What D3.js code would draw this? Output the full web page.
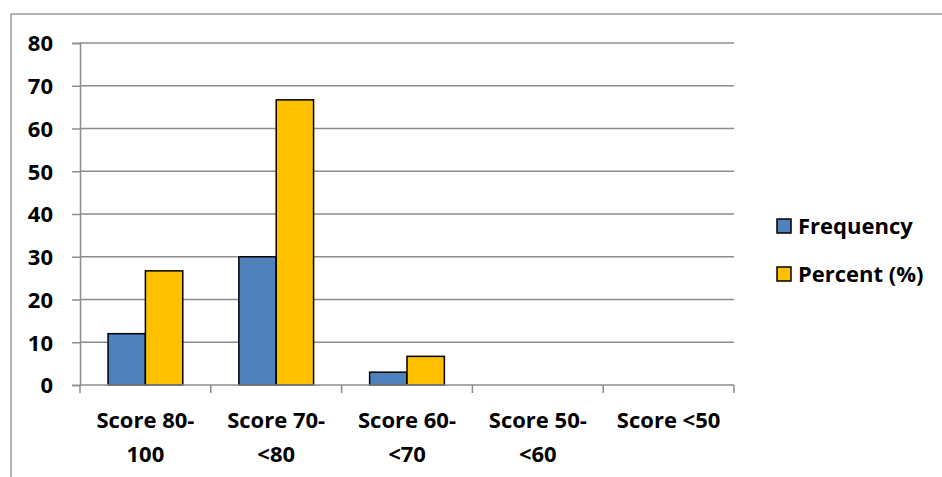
<!DOCTYPE html>
<html>
<head>
<meta charset="utf-8">
<script src="https://cdn.jsdelivr.net/npm/d3@7"></script>
<style>
  html, body { margin: 0; padding: 0; background: #fff; }
  svg { display: block; font-family: "Open Sans", "Liberation Sans", Arial, sans-serif; font-weight: bold; }
</style>
</head>
<body>
<svg id="chart" width="942" height="477"></svg>
<script>
// Score bands and the two series plotted for each band
const categories = [["Score 80-", "100"], ["Score 70-", "<80"], ["Score 60-", "<70"], ["Score 50-", "<60"], ["Score <50"]];
const categoryKeys = ["Score 80-100", "Score 70-<80", "Score 60-<70", "Score 50-<60", "Score <50"];
const frequency = [12, 30, 3, 0, 0];
const percent = [26.7, 66.7, 6.7, 0, 0];
const seriesNames = ["Frequency", "Percent (%)"];
const seriesColors = ["#4F81BD", "#FFC000"];
const yTicks = [0, 10, 20, 30, 40, 50, 60, 70, 80];

const FONT = "'Open Sans', 'Liberation Sans', Arial, sans-serif";
const FONT_SIZE = "22px";

const svg = d3.select("#chart");
const plot = { left: 80, right: 734, top: 43, bottom: 385 };

// outer chart frame
svg.append("path")
  .attr("d", "M11,477 V14 H942")
  .attr("fill", "none")
  .attr("stroke", "#9a9a9a")
  .attr("stroke-width", 1.5);

const x = d3.scaleBand().domain(categoryKeys).range([plot.left, plot.right]).paddingInner(0).paddingOuter(0);
const y = d3.scaleLinear().domain([0, 80]).range([plot.bottom, plot.top]);
const inner = d3.scaleBand().domain(seriesNames).range([0, x.bandwidth()]).paddingInner(0).paddingOuter(0.75);

// horizontal gridlines with the y axis
const yAxis = d3.axisLeft(y).tickValues(yTicks).tickSize(8).tickPadding(19).tickFormat(d3.format("d"));
const gy = svg.append("g").attr("transform", `translate(${plot.left},0)`).call(yAxis);
gy.select(".domain").attr("stroke", "#8c8c8c").attr("stroke-width", 1.5);
gy.selectAll(".tick line").attr("stroke", "#8c8c8c").attr("stroke-width", 1.5);
gy.selectAll(".tick text").attr("fill", "#000").attr("dy", "0.36em")
  .style("font-size", FONT_SIZE).style("font-weight", "bold").style("font-family", FONT);

svg.append("g").selectAll("line").data(yTicks.filter(d => d > 0)).join("line")
  .attr("x1", plot.left).attr("x2", plot.right)
  .attr("y1", d => y(d)).attr("y2", d => y(d))
  .attr("stroke", "#8c8c8c").attr("stroke-width", 1.5);

// bars
const rows = categoryKeys.map((k, i) => ({ key: k, values: [frequency[i], percent[i]] }));
const groups = svg.append("g").selectAll("g").data(rows).join("g")
  .attr("transform", d => `translate(${x(d.key)},0)`);
groups.selectAll("rect").data(d => d.values.map((v, j) => ({ v, s: seriesNames[j], c: seriesColors[j] })))
  .join("rect")
  .filter(d => d.v > 0)
  .attr("x", d => inner(d.s))
  .attr("width", inner.bandwidth())
  .attr("y", d => y(d.v))
  .attr("height", d => y(0) - y(d.v))
  .attr("fill", d => d.c)
  .attr("stroke", "#000")
  .attr("stroke-width", 1.5);

// x axis with category boundary ticks
svg.append("line").attr("x1", plot.left).attr("x2", plot.right)
  .attr("y1", plot.bottom).attr("y2", plot.bottom)
  .attr("stroke", "#8c8c8c").attr("stroke-width", 1.5);
const bounds = categoryKeys.map(k => x(k)).concat([plot.right]);
svg.append("g").selectAll("line").data(bounds).join("line")
  .attr("x1", d => d).attr("x2", d => d)
  .attr("y1", plot.bottom).attr("y2", plot.bottom + 8)
  .attr("stroke", "#8c8c8c").attr("stroke-width", 1.5);

const labels = svg.append("g").selectAll("text").data(categoryKeys).join("text")
  .attr("x", d => x(d) + x.bandwidth() / 2)
  .attr("y", 428)
  .attr("text-anchor", "middle")
  .style("font-size", FONT_SIZE);
labels.each(function(d, i) {
  const t = d3.select(this);
  categories[i].forEach((line, j) => {
    t.append("tspan").attr("x", x(d) + x.bandwidth() / 2).attr("dy", j === 0 ? 0 : 34).text(line);
  });
});

// legend
const legend = svg.append("g").selectAll("g").data(seriesNames).join("g")
  .attr("transform", (d, i) => `translate(777,${219 + i * 48})`);
legend.append("rect").attr("width", 14).attr("height", 14)
  .attr("fill", (d, i) => seriesColors[i]).attr("stroke", "#000").attr("stroke-width", 1.5);
legend.append("text").attr("x", 21).attr("y", 14.5)
  .style("font-size", FONT_SIZE).text(d => d);
</script>
</body>
</html>
